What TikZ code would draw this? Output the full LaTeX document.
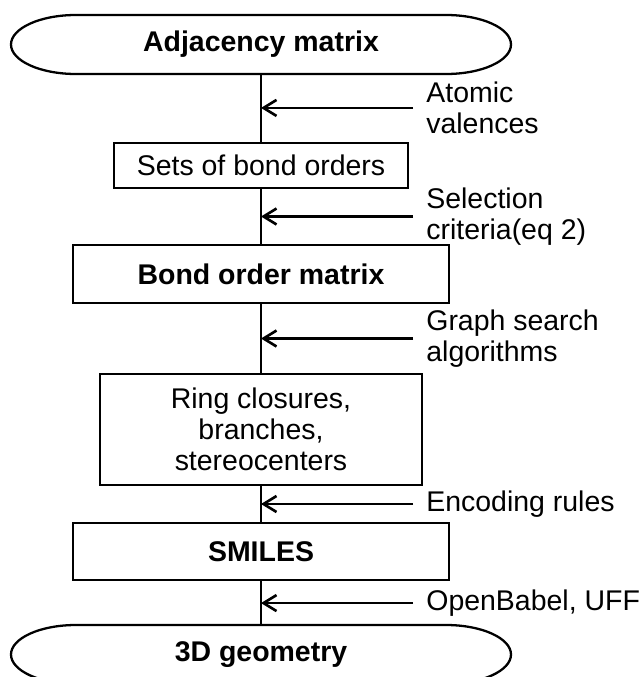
\documentclass[tikz,border=0pt]{standalone}
\usepackage{fontspec}
\setmainfont{Liberation Sans}
\usetikzlibrary{arrows.meta, positioning, calc}
\tikzset{>={Straight Barb[length=2.6mm,width=3.2mm]}}
\tikzset{
  block/.style={draw, line width=1.3pt, align=center, inner sep=0pt},
  term/.style={minimum width=10cm, minimum height=1.18cm, outer sep=0pt, font=\bfseries},
  lbl/.style={anchor=west, align=left, inner xsep=2.6mm, inner ysep=0pt},
  trunk/.style={line width=1pt},
  feed/.style={->, line width=1.5pt}
}
% outline of a start/end box with elliptic ends
\newcommand{\termline}[1]{%
  \draw[line width=1.3pt] ([xshift=13mm]#1.north west) -- ([xshift=-13mm]#1.north east)
    arc[start angle=90, end angle=-90, x radius=13mm, y radius=5.9mm]
    -- ([xshift=13mm]#1.south west)
    arc[start angle=270, end angle=90, x radius=13mm, y radius=5.9mm] -- cycle;}

\begin{document}
\fontsize{16.2}{17.6}\selectfont
\begin{tikzpicture}[on grid, node distance = 2.42cm]
		\useasboundingbox (0,0) rectangle (12.88,-13.54);
		\node (adj) [term] at (5.22,-0.89) {Adjacency matrix};
		\node (sets) [block, below = of adj, minimum width = 5.88cm, minimum height = 0.9cm] {Sets of bond orders};
		\node (bom) [block, below = 2.17cm of sets, minimum width = 7.52cm, minimum height = 1.16cm, font = \bfseries] {Bond order matrix};
		\node (ring) [block, below = 3.11cm of bom, minimum width = 6.44cm, minimum height = 2.22cm] {Ring closures,\\branches,\\stereocenters};
		\node (smiles) [block, below = 2.44cm of ring, minimum width = 7.52cm, minimum height = 1.14cm, font = \bfseries] {SMILES};
		\node (geo) [term, below = 2.06cm of smiles] {3D geometry};
		\termline{adj}
		\termline{geo}
		% inputs on the right
		\node (val) [lbl, xshift = 3.04cm] at ($(adj.south)!.5!(sets.north)$) {Atomic\\valences};
		\node (sel) [lbl, xshift = 3.04cm] at ($(sets.south)!.5!(bom.north)$) {Selection\\criteria(eq 2)};
		\node (gsa) [lbl, xshift = 3.04cm] at ($(bom.south)!.5!(ring.north)$) {Graph search\\algorithms};
		\node (enc) [lbl, xshift = 3.04cm] at ($(ring.south)!.5!(smiles.north)$) {Encoding rules};
		\node (obf) [lbl, xshift = 3.04cm] at ($(smiles.south)!.5!(geo.north)$) {OpenBabel, UFF};
		\path[trunk]
		(adj) edge (sets)
		(sets) edge (bom)
		(bom) edge (ring)
		(ring) edge (smiles)
		(smiles) edge (geo);
		\path[feed]
		(val.west) edge (val.west -| adj)
		(sel.west) edge (sel.west -| adj)
		(gsa.west) edge (gsa.west -| adj)
		(enc.west) edge (enc.west -| adj)
		(obf.west) edge (obf.west -| adj);
\end{tikzpicture}
\end{document}
